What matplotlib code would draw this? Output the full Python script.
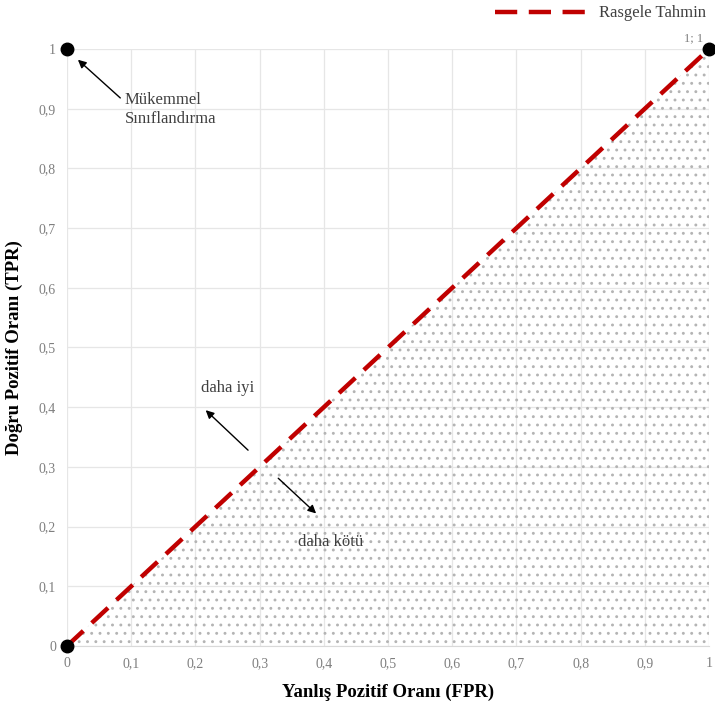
import numpy as np
import matplotlib.pyplot as plt

# data
ticks = [0, 0.1, 0.2, 0.3, 0.4, 0.5, 0.6, 0.7, 0.8, 0.9, 1]
tick_labels = ['0', '0,1', '0,2', '0,3', '0,4', '0,5', '0,6', '0,7', '0,8', '0,9', '1']
random_x = [0, 1]
random_y = [0, 1]
points_x = [0, 0, 1]
points_y = [0, 1, 1]

plt.rcParams['font.family'] = ['Liberation Serif', 'DejaVu Serif']
plt.rcParams['hatch.linewidth'] = 0.9

fig = plt.figure(figsize=(7.15, 7.06), dpi=100)
ax = fig.add_axes([0.0937, 0.085, 0.898, 0.8456])

# dotted area under diagonal
ax.fill_between(random_x, 0, random_y, facecolor='none', edgecolor='#b4b4b4',
                lw=0, hatch='..', zorder=1)

ax.plot(random_x, random_y, color='#C00000', lw=3.2, dashes=(5, 2.6),
        label='Rasgele Tahmin', zorder=3)
ax.plot(points_x, points_y, 'o', color='black', ms=9, clip_on=False, zorder=4)

ax.set_xlim(0, 1)
ax.set_ylim(0, 1)
ax.set_xticks(ticks)
ax.set_xticklabels(tick_labels)
ax.set_yticks(ticks)
ax.set_yticklabels(tick_labels)
ax.tick_params(length=0, labelsize=10, colors='#7f7f7f', pad=8)
ax.grid(color='#e6e6e6', lw=0.9)
ax.set_axisbelow(True)
for s in ['top', 'right', 'left']:
    ax.spines[s].set_visible(False)
ax.spines['bottom'].set_color('#d9d9d9')

ax.set_xlabel('Yanlış Pozitif Oranı (FPR)', fontsize=13.5, fontweight='bold', labelpad=10)
ax.set_ylabel('Doğru Pozitif Oranı (TPR)', fontsize=13.5, fontweight='bold', labelpad=11)

arr = dict(arrowstyle='-|>', color='black', lw=1.0, mutation_scale=12,
           shrinkA=0, shrinkB=0)
ax.annotate('', xy=(0.017, 0.982), xytext=(0.083, 0.918), arrowprops=arr)
ax.text(0.09, 0.928, 'Mükemmel\nSınıflandırma', fontsize=12, color='#404040',
        va='top', ha='left', linespacing=1.25)
ax.annotate('', xy=(0.216, 0.395), xytext=(0.282, 0.328), arrowprops=arr)
ax.text(0.25, 0.432, 'daha iyi', fontsize=12, color='#404040', ha='center', va='center')
ax.annotate('', xy=(0.388, 0.222), xytext=(0.329, 0.281), arrowprops=arr)
ax.text(0.41, 0.174, 'daha kötü', fontsize=12, color='#404040', ha='center', va='center')
ax.text(0.99, 1.008, '1; 1', fontsize=9, color='#7f7f7f', ha='right', va='bottom')

ax.legend(loc='lower right', bbox_to_anchor=(1.005, 1.035), frameon=False,
          fontsize=12, handlelength=5.4, handletextpad=0.8,
          labelcolor='#404040', borderaxespad=0)

fig.savefig('out.png', dpi=100)
